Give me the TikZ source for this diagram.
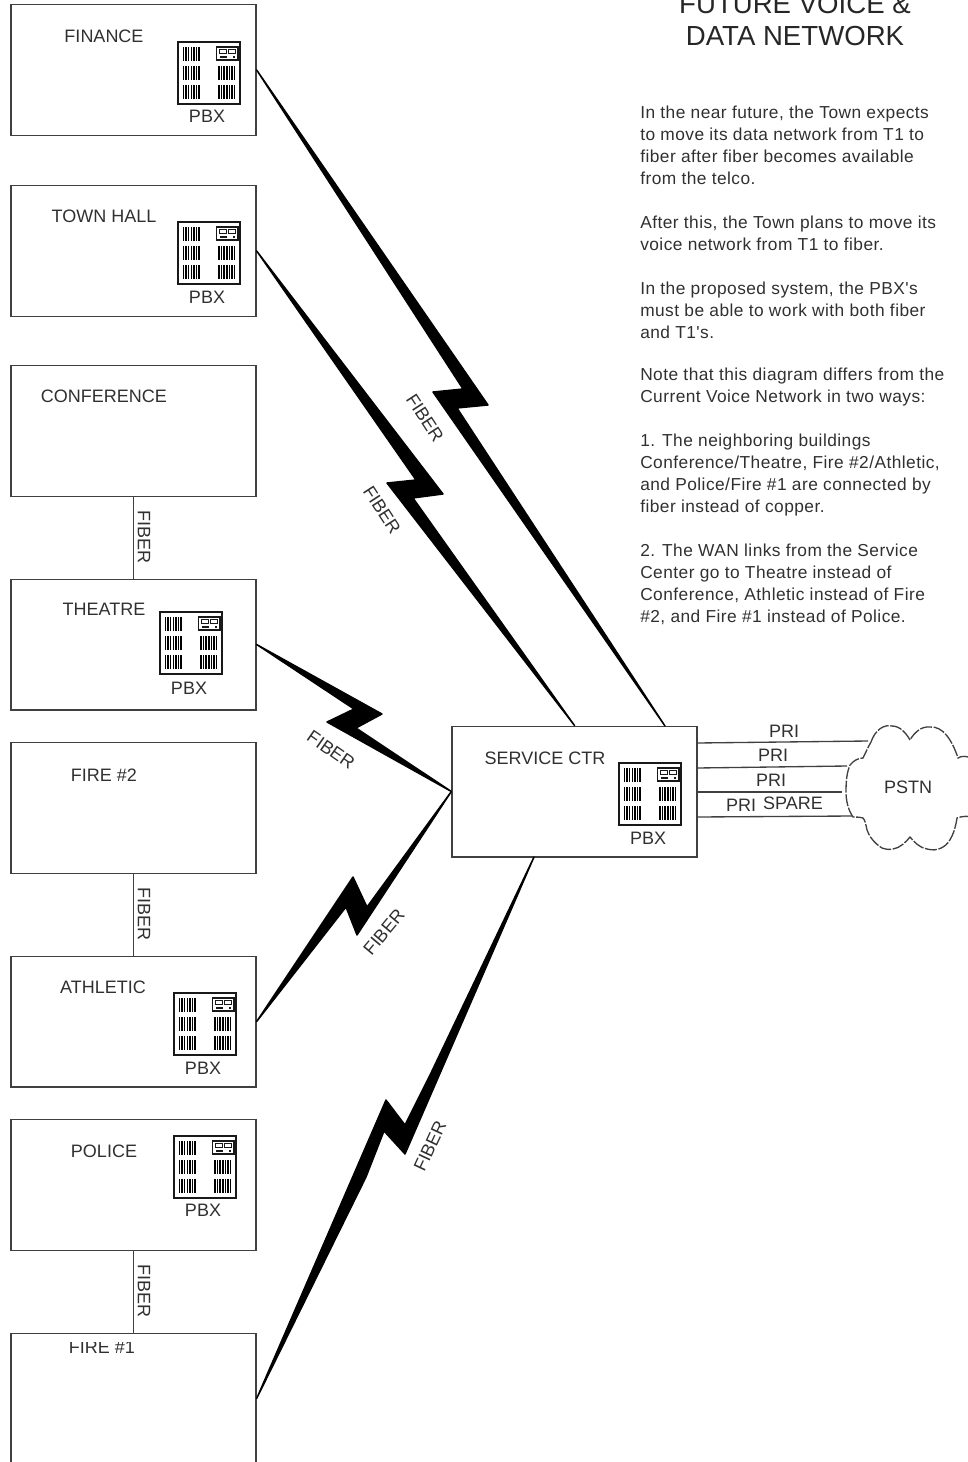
\documentclass[tikz,border=0pt]{standalone}
\usepackage{fontspec}
\setmainfont{Liberation Sans}
\newfontfamily\notefont[LetterSpace=2.6]{Liberation Sans}
\usetikzlibrary{positioning,calc}
\definecolor{linegray}{HTML}{404040}
\definecolor{textgray}{HTML}{303030}

\begin{document}
\begin{tikzpicture}[
    x=0.75pt, y=-0.75pt,
    every node/.style={font=\fontsize{13.5}{16}\selectfont, text=textgray},
    roombox/.style={rectangle, draw=linegray, line width=1pt, minimum width=183.75pt, minimum height=98pt, inner sep=0pt},
    roomlabel/.style={inner sep=0pt},
    linklabel/.style={inner sep=0pt},
    boltfill/.style={fill=black, draw=black, line width=1.1pt, line join=round},
    linkline/.style={draw=linegray, line width=1pt},
    bodytext/.style={anchor=north west, inner sep=0pt, align=left, font=\notefont\fontsize{13}{16.5}\selectfont},
    titletext/.style={inner sep=0pt, align=center, font=\fontsize{20.7}{24}\selectfont, text=black!85},
    pbxicon/.pic={
        \draw[line width=1.2pt, draw=black!90] (0,0) rectangle (62,62);
        % bar groups
        \foreach \bx/\by in {5.5/5, 5.5/24, 5.5/43, 41/24, 41/43} {
            \foreach \k in {0,...,6} {
                \draw[line width=1.1pt, draw=black] ($(\bx,\by)+(2.6*\k,0)$) -- ++(0,14);
            }
        }
        % switch panel
        \draw[line width=1.1pt, draw=black!90] (38.5,5) rectangle (60,18);
        \draw[line width=0.7pt, draw=black!90] (41,7.5) rectangle (48,11.5);
        \draw[line width=0.7pt, draw=black!90] (50,7.5) rectangle (57,11.5);
        \draw[line width=0.8pt, draw=black!90] (42,15) -- (49,15);
        \draw[line width=0.8pt, draw=black!90] (55,15) -- (57,15);
    }
]
\useasboundingbox (0,0) rectangle (967,1462);

% Buildings
\node[roombox] (finance) at (133.5,70) {};
\node[roombox] (townhall) at (133.5,251) {};
\node[roombox] (conference) at (133.5,431) {};
\node[roombox] (theatre) at (133.5,644.5) {};
\node[roombox] (fire2) at (133.5,808) {};
\node[roombox] (athletic) at (133.5,1021.5) {};
\node[roombox] (police) at (133.5,1185) {};
\node[roombox] (fire1) at (133.5,1398.5) {};
\node[roombox] (service) at (574.5,791.5) {};

% Building names
\node[roomlabel] (financename) at (104,36) {FINANCE};
\node[roomlabel] (townhallname) at (104,216) {TOWN HALL};
\node[roomlabel] (conferencename) at (104,396) {CONFERENCE};
\node[roomlabel] (theatrename) at (104,609) {THEATRE};
\node[roomlabel] (fire2name) at (104,775) {FIRE \#2};
\node[roomlabel] (athleticname) at (103,987) {ATHLETIC};
\node[roomlabel] (policename) at (104,1151) {POLICE};
\node[roomlabel] (servicename) at (545,758) {SERVICE CTR};
\begin{scope}
    \clip (20,1342) rectangle (200,1370);
    \node[roomlabel] (fire1name) at (102,1347) {FIRE \#1};
\end{scope}

% PBX icons
\pic at (178,42) {pbxicon};
\pic at (178,222) {pbxicon};
\pic at (160,612) {pbxicon};
\pic at (174,993) {pbxicon};
\pic at (174,1136) {pbxicon};
\pic at (619,763) {pbxicon};
\node[roomlabel] (pbxfinance) at (207,116) {PBX};
\node[roomlabel] (pbxtownhall) at (207,297) {PBX};
\node[roomlabel] (pbxtheatre) at (189,688) {PBX};
\node[roomlabel] (pbxathletic) at (203,1068) {PBX};
\node[roomlabel] (pbxpolice) at (203,1210) {PBX};
\node[roomlabel] (pbxservice) at (648,838) {PBX};

% Fiber between neighbours
\draw[linkline] (conference) -- (theatre);
\draw[linkline] (fire2) -- (athletic);
\draw[linkline] (police) -- (fire1);
\node[linklabel, rotate=-90] (fiberconf) at (144,537) {FIBER};
\node[linklabel, rotate=-90] (fiberfire2) at (144,914) {FIBER};
\node[linklabel, rotate=-90] (fiberpolice) at (144,1291) {FIBER};

% Ends of the WAN links on the service center
\coordinate (svcfinance) at (665,726);
\coordinate (svcfire1) at (534,857);

% WAN links
\fill[boltfill] (finance.east) -- (463,389) -- (433,392) -- (svcfinance) -- (457,408) -- (488,405) -- cycle;
\fill[boltfill] (townhall.east) -- (416,480) -- (387,483) -- (service.north) -- (413,498) -- (443,494) -- cycle;
\fill[boltfill] (theatre.east) -- (354,709) -- (327,722) -- (service.west) -- (356,728) -- (382,714) -- cycle;
\fill[boltfill] (athletic.east) -- (353,877) -- (367,907) -- (service.west) -- (357,935) -- (346,907) -- cycle;
\fill[boltfill] (fire1.east) -- (386,1100) -- (405,1125) -- (430,1075) -- (svcfire1) -- (405,1154) -- (384,1131) -- (366,1177) -- cycle;
\node[linklabel, rotate=-57] (fiberfinance) at (425,418) {FIBER};
\node[linklabel, rotate=-57] (fibertownhall) at (382,510) {FIBER};
\node[linklabel, rotate=-35] (fibertheatre) at (331,750) {FIBER};
\node[linklabel, rotate=50] (fiberathletic) at (384,932) {FIBER};
\node[linklabel, rotate=65] (fiberfire1) at (430,1146) {FIBER};

% PSTN cloud
\draw[linegray, line width=1pt, dash pattern=on 9pt off 1.2pt] (871,742)
    .. controls (875,730) and (884,724) .. (892,726)
    .. controls (900,726) and (906,733) .. (910,740)
    .. controls (914,733) and (921,726) .. (930,727)
    .. controls (943,726) and (952,740) .. (958,758)
    .. controls (961,756) and (966,755) .. (975,760)
    .. controls (985,785) and (985,800) .. (975,817)
    .. controls (968,816) and (962,816) .. (957,818)
    .. controls (955,832) and (950,843) .. (943,847)
    .. controls (936,851) and (932,850) .. (927,849)
    .. controls (920,848) and (914,842) .. (910,837)
    .. controls (906,842) and (900,848) .. (893,849)
    .. controls (889,850) and (885,849) .. (882,848)
    .. controls (874,843) and (869,836) .. (867,830)
    .. controls (866,825) and (865,820) .. (863,818)
    .. controls (859,817) and (856,817) .. (853,817)
    .. controls (848,810) and (846,800) .. (846,792)
    .. controls (846,780) and (847,772) .. (850,765)
    .. controls (854,760) and (859,758) .. (863,758)
    .. controls (866,752) and (868,747) .. (871,742);
\node[roomlabel] (pstn) at (908,787) {PSTN};

% Trunks to the cloud
\coordinate (svcpri1) at (697,743);
\coordinate (svcpri2) at (697,768);
\coordinate (svcpri3) at (697,792);
\coordinate (svcpri4) at (697,817);
\coordinate (cloudpri1) at (868,741);
\coordinate (cloudpri2) at (847,766);
\coordinate (cloudpri3) at (842,792);
\coordinate (cloudpri4) at (852,816);
\draw[linkline] (svcpri1) -- (cloudpri1);
\draw[linkline] (svcpri2) -- (cloudpri2);
\draw[linkline] (svcpri3) -- (cloudpri3);
\draw[linkline] (svcpri4) -- (cloudpri4);
\node[linklabel] (pri1) at (784,731) {PRI};
\node[linklabel] (pri2) at (773,755) {PRI};
\node[linklabel] (pri3) at (771,780) {PRI};
\node[linklabel] (pri4) at (741,805) {PRI};
\node[linklabel] (spare) at (793,803) {SPARE};

% Title and notes
\node[titletext] (title) at (795,20) {FUTURE VOICE \&\\DATA NETWORK};
\node[bodytext] (note1) at (640,106) {In the near future, the Town expects\\to move its data network from T1 to\\fiber after fiber becomes available\\from the telco.};
\node[bodytext] (note2) at (640,216) {After this, the Town plans to move its\\voice network from T1 to fiber.};
\node[bodytext] (note3) at (640,282) {In the proposed system, the PBX's\\must be able to work with both fiber\\and T1's.};
\node[bodytext] (note4) at (640,368) {Note that this diagram differs from the\\Current Voice Network in two ways:};
\node[bodytext] (note5) at (640,434) {1. The neighboring buildings\\Conference/Theatre, Fire \#2/Athletic,\\and Police/Fire \#1 are connected by\\fiber instead of copper.};
\node[bodytext] (note6) at (640,544) {2. The WAN links from the Service\\Center go to Theatre instead of\\Conference, Athletic instead of Fire\\\#2, and Fire \#1 instead of Police.};

\end{tikzpicture}
\end{document}
